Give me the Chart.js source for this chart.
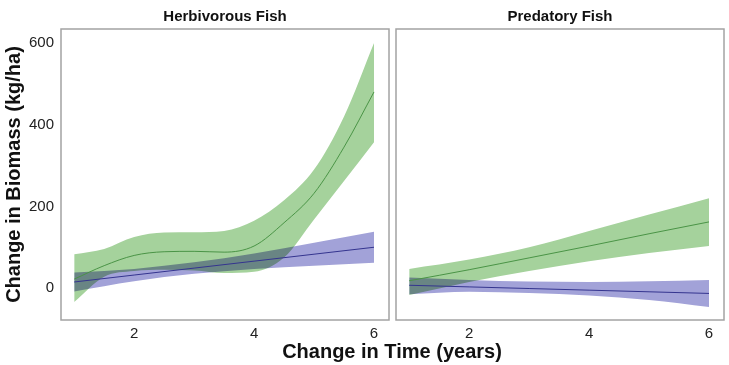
<!DOCTYPE html>
<html>
<head>
<meta charset="utf-8">
<script src="https://cdn.jsdelivr.net/npm/chart.js@4/dist/chart.umd.min.js"></script>
<style>
  body { margin: 0; background: #fff; }
  #wrap { position: relative; width: 729px; height: 365px; }
  #box1 { position: absolute; left: 0; top: 0; width: 392px; height: 365px; }
  #box2 { position: absolute; left: 392px; top: 0; width: 337px; height: 365px; }
  #xtitle {
    position: absolute; left: 0; width: 784px; top: 340px; line-height: 24px;
    text-align: center; font: bold 20px "Liberation Sans", Arial, sans-serif; color: #111;
  }
</style>
</head>
<body>
<div id="wrap">
  <div id="box1"><canvas id="Chart1"></canvas></div>
  <div id="box2"><canvas id="Chart2"></canvas></div>
  <div id="xtitle">Change in Time (years)</div>
</div>
<script>
// ticks
var yearTicks = [2, 4, 6];
var biomassTicks = [0, 200, 400, 600];

// herbivorous fish, green smooth (half-year steps)
var herbYears = [1, 1.5, 2, 2.5, 3, 3.5, 4, 4.5, 5, 5.5, 6];
var herbGreenFit = [22, 55, 80, 89, 90, 88, 103, 160, 232, 345, 480];
var herbGreenHigh = [83, 96, 125, 136, 137, 140, 165, 215, 290, 420, 600];
var herbGreenLow = [-34, 28, 42, 45, 43, 37, 40, 75, 168, 262, 357];

// herbivorous fish, blue smooth
var years = [1, 2, 3, 4, 5, 6];
var herbBlueFit = [15, 32, 49, 66, 83, 100];
var herbBlueHigh = [38, 47, 63, 85, 111, 138];
var herbBlueLow = [-8, 17, 35, 47, 55, 62];

// predatory fish
var predGreenFit = [18, 45, 74, 103, 133, 162];
var predGreenHigh = [47, 70, 100, 140, 180, 220];
var predGreenLow = [-17, 15, 42, 66, 86, 103];
var predBlueFit = [7, 3, -1, -5, -9, -13];
var predBlueHigh = [26, 20, 16, 15, 17, 20];
var predBlueLow = [-15, -9, -12, -18, -29, -46];

var greenLine = "#4a9446";
var greenBand = "rgb(165,210,156)";
var blueLine = "#34348f";
var blueBand = "rgb(162,162,216)";

Chart.defaults.font.family = '"Liberation Sans", Arial, sans-serif';
Chart.defaults.color = "#222";

function pts(xs, ys) {
  return xs.map(function (x, i) { return { x: x, y: ys[i] }; });
}

function smoothSets(xs, fit, high, low, lineCol, bandCol, base, order) {
  return [
    { data: pts(xs, high), borderWidth: 0, pointRadius: 0, fill: false, order: order,
      cubicInterpolationMode: 'monotone' },
    { data: pts(xs, low), borderWidth: 0, pointRadius: 0, backgroundColor: bandCol,
      fill: base, order: order, cubicInterpolationMode: 'monotone' },
    { data: pts(xs, fit), borderColor: lineCol, borderWidth: 1, pointRadius: 0, fill: false,
      order: 0, cubicInterpolationMode: 'monotone', isFit: true }
  ];
}

// bands overlap like a multiply blend in the reference; fit lines drawn normally
var multiplyBands = {
  id: 'multiplyBands',
  beforeDatasetsDraw: function (chart) {
    chart.ctx.save();
    chart.ctx.globalCompositeOperation = 'multiply';
  },
  beforeDatasetDraw: function (chart, args) {
    if (chart.data.datasets[args.index].isFit) chart.ctx.globalCompositeOperation = 'source-over';
  },
  afterDatasetDraw: function (chart, args) {
    if (chart.data.datasets[args.index].isFit) chart.ctx.globalCompositeOperation = 'multiply';
  },
  afterDatasetsDraw: function (chart) {
    chart.ctx.restore();
  }
};

var panelBorder = {
  id: 'panelBorder',
  afterDraw: function (chart) {
    var a = chart.chartArea, c = chart.ctx;
    c.save();
    c.strokeStyle = "#a3a3a3";
    c.lineWidth = 1.5;
    c.strokeRect(a.left, a.top, a.right - a.left, a.bottom - a.top);
    c.restore();
  }
};

function makeOptions(title, showY, pad) {
  return {
    responsive: true,
    maintainAspectRatio: false,
    animation: false,
    layout: { padding: pad },
    plugins: {
      legend: { display: false },
      tooltip: { enabled: false },
      title: {
        display: true, text: title, fullSize: false, color: "#111",
        font: { size: 15, weight: 'bold' }, padding: { top: 8, bottom: 3 }
      }
    },
    scales: {
      x: {
        type: 'linear', min: 0.78, max: 6.25,
        grid: { display: false, drawTicks: false },
        border: { display: false },
        afterBuildTicks: function (s) { s.ticks = yearTicks.map(function (v) { return { value: v }; }); },
        afterFit: function (s) { s.height = 45; },
        ticks: { font: { size: 15 }, padding: 5, color: "#222" }
      },
      y: {
        type: 'linear', min: -78, max: 634, display: showY,
        grid: { display: false, drawTicks: false },
        border: { display: false },
        afterBuildTicks: function (s) { s.ticks = biomassTicks.map(function (v) { return { value: v }; }); },
        afterFit: function (s) { s.width = showY ? 61 : 0; },
        ticks: { font: { size: 15 }, padding: 7, color: "#222" },
        title: {
          display: true, text: 'Change in Biomass (kg/ha)', color: "#111",
          font: { size: 20, weight: 'bold' }, padding: { top: 2, bottom: 0 }
        }
      }
    }
  };
}

var ctx1 = document.getElementById("Chart1").getContext('2d');
var ctx2 = document.getElementById("Chart2").getContext('2d');

var Chart1 = new Chart(ctx1, {
  type: 'line',
  data: {
    datasets: smoothSets(years, herbBlueFit, herbBlueHigh, herbBlueLow, blueLine, blueBand, 0, 1)
      .concat(smoothSets(herbYears, herbGreenFit, herbGreenHigh, herbGreenLow, greenLine, greenBand, 3, 2))
  },
  options: makeOptions('Herbivorous Fish', true, { left: 0, right: 3, top: 0, bottom: 0 }),
  plugins: [multiplyBands, panelBorder]
});

var Chart2 = new Chart(ctx2, {
  type: 'line',
  data: {
    datasets: smoothSets(years, predBlueFit, predBlueHigh, predBlueLow, blueLine, blueBand, 0, 1)
      .concat(smoothSets(years, predGreenFit, predGreenHigh, predGreenLow, greenLine, greenBand, 3, 2))
  },
  options: makeOptions('Predatory Fish', false, { left: 4, right: 5, top: 0, bottom: 0 }),
  plugins: [multiplyBands, panelBorder]
});
</script>
</body>
</html>
